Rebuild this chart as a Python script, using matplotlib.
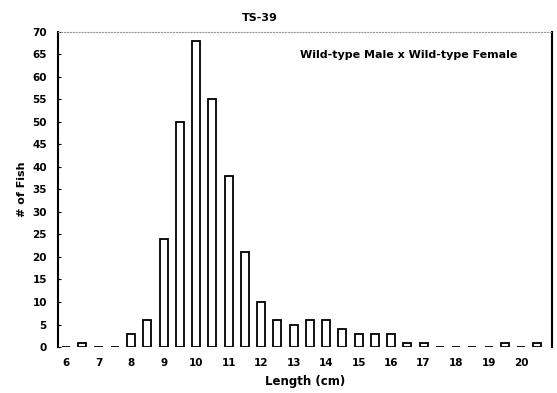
import numpy as np
import matplotlib
matplotlib.use('Agg')
import matplotlib.pyplot as plt

# ==================== data ====================
title = 'TS-39'
cross_label = 'Wild-type Male x Wild-type Female'
bin_centers = [6.0, 6.5, 7.0, 7.5, 8.0, 8.5, 9.0, 9.5, 10.0, 10.5,
               11.0, 11.5, 12.0, 12.5, 13.0, 13.5, 14.0, 14.5, 15.0, 15.5,
               16.0, 16.5, 17.0, 17.5, 18.0, 18.5, 19.0, 19.5, 20.0, 20.5]
fish_counts = [0, 1, 0, 0, 3, 6, 24, 50, 68, 55,
               38, 21, 10, 6, 5, 6, 6, 4, 3, 3,
               3, 1, 1, 0, 0, 0, 0, 1, 0, 1]
x_ticks = [6, 7, 8, 9, 10, 11, 12, 13, 14, 15, 16, 17, 18, 19, 20]
y_ticks = list(range(0, 75, 5))

# ==================== plot ====================
fig = plt.figure(figsize=(5.57, 3.93), dpi=100)
ax = fig.add_axes([0.104, 0.117, 0.887, 0.802])

ax.bar(bin_centers, fish_counts, width=0.25, fill=False,
       edgecolor='black', linewidth=1.3)

ax.set_xlim(5.75, 20.95)
ax.set_ylim(0, 70)
ax.set_xticks(x_ticks)
ax.set_yticks(y_ticks)
ax.tick_params(axis='x', length=0, pad=8, labelsize=7.5)
ax.tick_params(axis='y', direction='in', length=2, pad=8, labelsize=7.5)
for lab in ax.get_xticklabels() + ax.get_yticklabels():
    lab.set_fontweight('bold')

ax.spines['bottom'].set_visible(False)
ax.spines['top'].set_color('#999999')
ax.spines['top'].set_linestyle(':')
ax.spines['left'].set_linewidth(1.5)
ax.spines['right'].set_linewidth(1.5)

ax.set_xlabel('Length (cm)', fontsize=8.5, fontweight='bold', labelpad=5)
ax.set_ylabel('# of Fish', fontsize=8, fontweight='bold', labelpad=4)
fig.text(0.467, 0.955, title, ha='center', va='center',
         fontsize=8, fontweight='bold')
ax.text(0.93, 0.925, cross_label, transform=ax.transAxes,
        ha='right', va='center', fontsize=8, fontweight='bold')

fig.savefig('out.png', dpi=100)
